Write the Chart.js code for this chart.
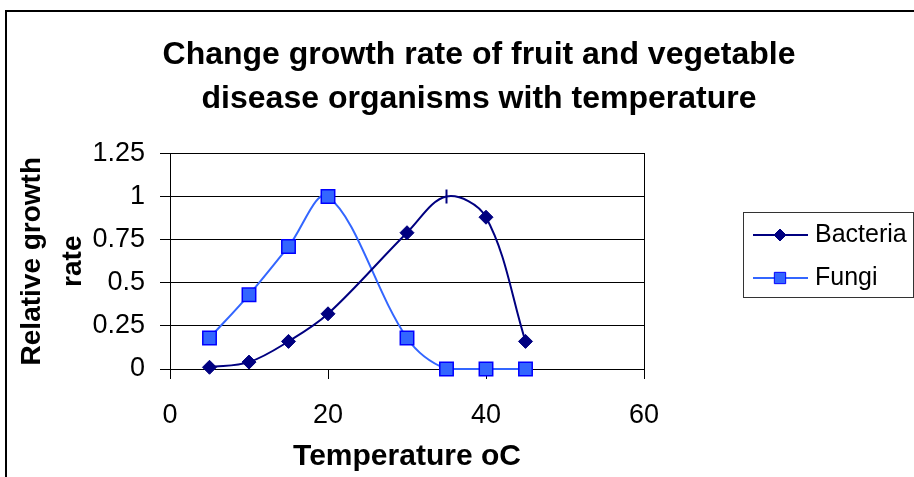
<!DOCTYPE html>
<html>
<head>
<meta charset="utf-8">
<script src="https://cdn.jsdelivr.net/npm/chart.js@4.4.1/dist/chart.umd.min.js"></script>
<style>
  html, body { margin: 0; padding: 0; background: #fff; overflow: hidden; }
  #wrap { width: 914px; height: 477px; overflow: hidden; position: relative; }
</style>
</head>
<body>
<div id="wrap"><canvas id="growthChart" width="958" height="477"></canvas></div>
<script>
// values
const temperatures = [5, 10, 15, 20, 30, 35, 40, 45];
const bacteria = [0.01, 0.04, 0.16, 0.32, 0.79, 1.0, 0.88, 0.16];
const fungi = [0.18, 0.43, 0.71, 1.0, 0.18, 0, 0, 0];
const seriesNames = ['Bacteria', 'Fungi'];
const titleLines = ['Change growth rate of fruit and vegetable', 'disease organisms with temperature'];
const xTitle = 'Temperature oC';
const yTitleLines = ['Relative growth', 'rate'];

const FONT = "'Liberation Sans', Arial, sans-serif";
const NAVY = '#000080';
const SKY = '#3366FF';

Chart.defaults.font.family = FONT;
Chart.defaults.color = '#000';

function toPoints(values) {
    return temperatures.map((t, i) => ({ x: t, y: values[i] }));
}

// outer chart frame, like the excel chart border
const framePlugin = {
    id: 'frame',
    beforeDraw(chart) {
        const ctx = chart.ctx;
        ctx.save();
        ctx.fillStyle = '#fff';
        ctx.fillRect(0, 0, chart.width, chart.height);
        ctx.strokeStyle = '#000';
        ctx.lineWidth = 2;
        ctx.beginPath();
        ctx.moveTo(6, 480);
        ctx.lineTo(6, 11);
        ctx.lineTo(958, 11);
        ctx.stroke();
        ctx.restore();
    }
};

// legend box with line + marker samples
const boxLegend = {
    id: 'boxLegend',
    afterDraw(chart) {
        const ctx = chart.ctx;
        const rows = [235, 278];
        ctx.save();
        ctx.strokeStyle = '#333';
        ctx.lineWidth = 1;
        ctx.strokeRect(743.5, 212.5, 170, 85);
        chart.data.datasets.forEach((ds, i) => {
            const y = rows[i];
            ctx.strokeStyle = ds.borderColor;
            ctx.lineWidth = 2;
            ctx.beginPath();
            ctx.moveTo(753, y);
            ctx.lineTo(808, y);
            ctx.stroke();
            ctx.fillStyle = ds.legendFill;
            ctx.strokeStyle = ds.legendStroke;
            ctx.lineWidth = 1;
            Chart.helpers.drawPoint(ctx, { pointStyle: ds.legendStyle, radius: ds.legendRadius, borderWidth: 1, rotation: 0 }, 780, y);
            ctx.fillStyle = '#000';
            ctx.font = '25px ' + FONT;
            ctx.textBaseline = 'middle';
            ctx.textAlign = 'left';
            ctx.fillText(ds.label, 815, y);
        });
        ctx.restore();
    }
};

const CHART = document.getElementById('growthChart');
let growthChart = new Chart(CHART, {
    type: 'line',
    data: {
        datasets: [
            // Bacteria navy diamonds
            {
                label: seriesNames[0],
                data: toPoints(bacteria),
                borderColor: NAVY,
                backgroundColor: NAVY,
                borderWidth: 2,
                tension: 0.35,
                clip: false,
                pointStyle: ctx => ctx.raw && ctx.raw.x === 35 ? 'line' : 'rectRot',
                pointRotation: ctx => ctx.raw && ctx.raw.x === 35 ? 90 : 0,
                pointRadius: 7,
                pointBorderWidth: ctx => ctx.raw && ctx.raw.x === 35 ? 2 : 1,
                pointBackgroundColor: NAVY,
                pointBorderColor: NAVY,
                legendStyle: 'rectRot',
                legendRadius: 6,
                legendFill: NAVY,
                legendStroke: NAVY
            },
            // Fungi light blue squares
            {
                label: seriesNames[1],
                data: toPoints(fungi),
                borderColor: SKY,
                backgroundColor: SKY,
                borderWidth: 2,
                tension: 0.35,
                clip: false,
                pointStyle: 'rect',
                pointRadius: 9.5,
                pointBorderWidth: 1.5,
                pointBackgroundColor: SKY,
                pointBorderColor: '#0000FF',
                legendStyle: 'rect',
                legendRadius: 8,
                legendFill: SKY,
                legendStroke: '#0000FF'
            }
        ]
    },
    options: {
        responsive: false,
        animation: false,
        layout: { padding: 0 },
        plugins: {
            legend: { display: false },
            tooltip: { enabled: false },
            title: {
                display: true,
                text: titleLines,
                color: '#000',
                font: { size: 32, weight: 'bold', lineHeight: 1.35 },
                padding: { top: 34, bottom: 33 }
            }
        },
        scales: {
            x: {
                type: 'linear',
                min: 0,
                max: 60,
                ticks: { stepSize: 20, padding: 20, font: { size: 27 }, color: '#000' },
                grid: { drawOnChartArea: false, drawTicks: true, tickLength: 10, color: '#000' },
                border: { color: '#000', width: 1 },
                title: { display: true, text: xTitle, font: { size: 30, weight: 'bold' }, padding: { top: 0, bottom: 2 } },
                afterFit(scale) { scale.height = 108; }
            },
            y: {
                min: 0,
                max: 1.25,
                ticks: {
                    stepSize: 0.25,
                    padding: 15,
                    font: { size: 27 },
                    color: '#000',
                    callback: v => String(+v.toFixed(2))
                },
                grid: { color: '#000', tickLength: 10 },
                border: { color: '#000', width: 1 },
                title: { display: true, text: yTitleLines, font: { size: 28, weight: 'bold', lineHeight: 1.45 }, padding: { top: 12, bottom: 0 } },
                afterFit(scale) { scale.width = 170; }
            },
            // right edge of the plot area, also keeps room for the legend
            yRight: {
                position: 'right',
                min: 0,
                max: 1.25,
                ticks: { display: false },
                grid: { display: false },
                border: { display: true, color: '#000', width: 1 },
                afterFit(scale) { scale.width = 314; }
            }
        }
    },
    plugins: [framePlugin, boxLegend]
});
</script>
</body>
</html>
